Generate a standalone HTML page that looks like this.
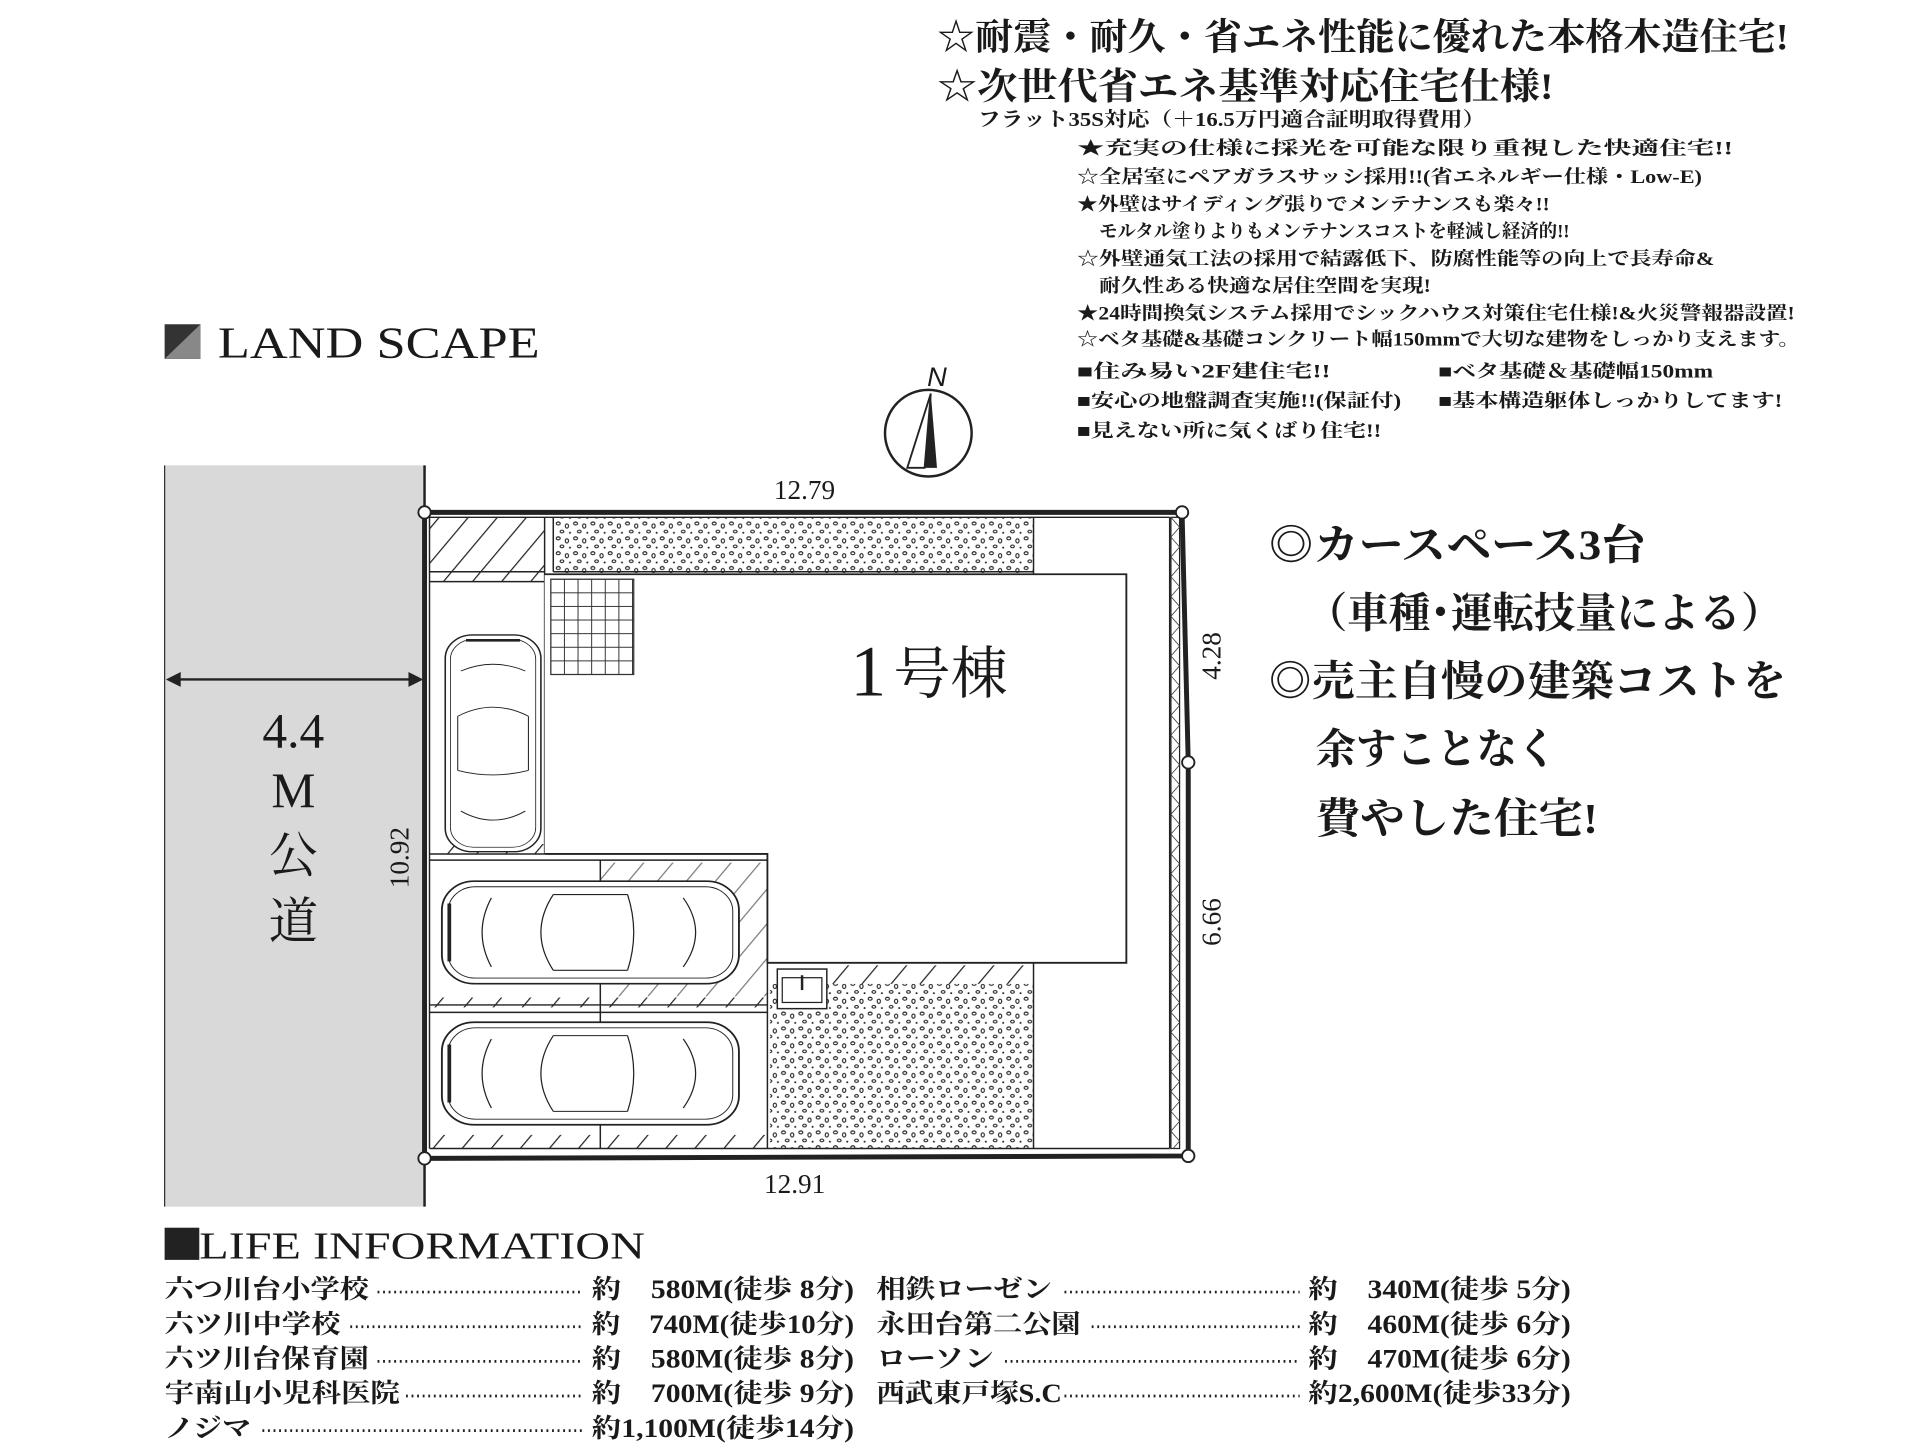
<!DOCTYPE html>
<html><head><meta charset="utf-8"><style>
html,body{margin:0;padding:0;background:#fff;}
svg{display:block;}
text{font-family:"Liberation Serif","Noto Serif CJK JP","Noto Serif CJK SC",serif;fill:#1a1a1a;}
.b{font-weight:bold;}
</style></head><body>
<svg width="1921" height="1448" viewBox="0 0 1552 1170" preserveAspectRatio="none" xmlns="http://www.w3.org/2000/svg">
<defs>
<clipPath id="fc"><rect x="946" y="418" width="7" height="510"/></clipPath>
<pattern id="st" width="14" height="12" patternUnits="userSpaceOnUse">
<ellipse cx="3" cy="3" rx="1.6" ry="1.2" fill="none" stroke="#222" stroke-width="0.9"/>
<ellipse cx="10" cy="5" rx="1.3" ry="1.7" fill="none" stroke="#222" stroke-width="0.9"/>
<ellipse cx="6" cy="9.5" rx="1.5" ry="1.1" fill="none" stroke="#222" stroke-width="0.9"/>
<circle cx="12.5" cy="10.5" r="0.8" fill="#222"/>
</pattern>
<pattern id="ht" width="18" height="18" patternUnits="userSpaceOnUse" patternTransform="rotate(40)">
<line x1="0" y1="0" x2="0" y2="18" stroke="#222" stroke-width="2"/>
</pattern>
<pattern id="tile" width="11" height="11" patternUnits="userSpaceOnUse" x="445" y="468">
<rect width="11" height="11" fill="none" stroke="#333" stroke-width="0.8"/>
</pattern>
<g id="carh">
<rect x="0" y="0" width="240" height="92" rx="26" fill="#fff" stroke="#222" stroke-width="1.5"/>
<rect x="5" y="5" width="230" height="82" rx="22" fill="none" stroke="#222" stroke-width="0.8"/>
<path d="M90 12 Q70 46 90 80 M150 12 Q160 46 150 80 M90 12 L150 12 M90 80 L150 80 M195 15 Q215 46 195 77 M40 15 Q25 46 40 77" fill="none" stroke="#222" stroke-width="1"/>
<line x1="6" y1="20" x2="6" y2="72" stroke="#222" stroke-width="3"/>
</g>
</defs>

<text x="757" y="40" class="b" font-size="30" textLength="688" lengthAdjust="spacingAndGlyphs">☆耐震・耐久・省エネ性能に優れた本格木造住宅!</text>
<text x="757" y="80" class="b" font-size="30" textLength="498" lengthAdjust="spacingAndGlyphs">☆次世代省エネ基準対応住宅仕様!</text>
<text x="790" y="102" class="b" font-size="16" textLength="410" lengthAdjust="spacingAndGlyphs">フラット35S対応（＋16.5万円適合証明取得費用）</text>
<g font-size="15">
<text x="870" y="125" textLength="530" lengthAdjust="spacingAndGlyphs" class="b">★充実の仕様に採光を可能な限り重視した快適住宅!!</text>
<text x="870" y="148" textLength="505" lengthAdjust="spacingAndGlyphs" class="b">☆全居室にペアガラスサッシ採用!!(省エネルギー仕様・Low-E)</text>
<text x="870" y="170" textLength="382" lengthAdjust="spacingAndGlyphs" class="b">★外壁はサイディング張りでメンテナンスも楽々!!</text>
<text x="888" y="192" textLength="380" lengthAdjust="spacingAndGlyphs" class="b">モルタル塗りよりもメンテナンスコストを軽減し経済的!!</text>
<text x="870" y="214" textLength="515" lengthAdjust="spacingAndGlyphs" class="b">☆外壁通気工法の採用で結露低下、防腐性能等の向上で長寿命&amp;</text>
<text x="888" y="236" textLength="268" lengthAdjust="spacingAndGlyphs" class="b">耐久性ある快適な居住空間を実現!</text>
<text x="870" y="258" textLength="580" lengthAdjust="spacingAndGlyphs" class="b">★24時間換気システム採用でシックハウス対策住宅仕様!&amp;火災警報器設置!</text>
<text x="870" y="279" textLength="584" lengthAdjust="spacingAndGlyphs" class="b">☆ベタ基礎&amp;基礎コンクリート幅150mmで大切な建物をしっかり支えます。</text>
<text x="870" y="305" textLength="205" lengthAdjust="spacingAndGlyphs" class="b">■住み易い2F建住宅!!</text>
<text x="870" y="329" textLength="262" lengthAdjust="spacingAndGlyphs" class="b">■安心の地盤調査実施!!(保証付)</text>
<text x="870" y="353" textLength="246" lengthAdjust="spacingAndGlyphs" class="b">■見えない所に気くばり住宅!!</text>
<text x="1162" y="305" textLength="222" lengthAdjust="spacingAndGlyphs" class="b">■ベタ基礎＆基礎幅150mm</text>
<text x="1162" y="329" textLength="278" lengthAdjust="spacingAndGlyphs" class="b">■基本構造躯体しっかりしてます!</text>
</g>

<rect x="133" y="262" width="29" height="28" fill="#333"/>
<polygon points="162,262 162,290 133,290" fill="#888"/>
<text x="176" y="289" font-size="36" textLength="260" lengthAdjust="spacingAndGlyphs">LAND SCAPE</text>

<circle cx="750" cy="350" r="35" fill="none" stroke="#222" stroke-width="2"/>
<polygon points="752,318 747,378 733,378" fill="#fff" stroke="#222" stroke-width="1.5"/>
<polygon points="752,318 757,378 747,378" fill="#222"/>
<text x="757" y="312" font-size="22" text-anchor="middle" style="font-family:'Liberation Sans',sans-serif" font-style="italic">N</text>

<rect x="133" y="376" width="210" height="599" fill="#d9d9d9"/>
<line x1="133" y1="376" x2="133" y2="975" stroke="#333" stroke-width="1"/>
<line x1="343" y1="376" x2="343" y2="975" stroke="#222" stroke-width="2"/>
<line x1="138" y1="549" x2="338" y2="549" stroke="#222" stroke-width="2"/>
<polygon points="134,549 146,543 146,555" fill="#222"/>
<polygon points="342,549 330,543 330,555" fill="#222"/>
<g font-size="40" text-anchor="middle" fill="#333">
<text x="237" y="604">4.4</text>
<text x="237" y="652">M</text>
<text x="237" y="705">公</text>
<text x="237" y="758">道</text>
</g>

<rect x="447" y="418" width="388" height="45" fill="url(#st)"/>
<rect x="622" y="795" width="213" height="133" fill="url(#st)"/>
<rect x="347" y="418" width="93" height="44" fill="url(#ht)"/>
<rect x="672" y="780" width="163" height="15" fill="url(#ht)"/>
<rect x="347" y="462" width="93" height="8" fill="url(#ht)"/>
<rect x="347" y="682" width="93" height="8" fill="url(#ht)"/>
<rect x="347" y="806" width="273" height="8" fill="url(#ht)"/>
<rect x="485" y="697" width="135" height="108" fill="url(#ht)" opacity="0.6"/>
<rect x="347" y="917" width="273" height="11" fill="url(#ht)"/>
<g fill="none" stroke="#222" stroke-width="1.2">
<line x1="347" y1="462" x2="440" y2="462"/>
<line x1="347" y1="470" x2="440" y2="470"/>
<line x1="347" y1="690" x2="440" y2="690"/>
<line x1="347" y1="695" x2="620" y2="695"/>
<line x1="347" y1="812" x2="620" y2="812"/>
<line x1="347" y1="818" x2="620" y2="818"/>
<line x1="347" y1="928" x2="945" y2="928"/>
<line x1="440" y1="418" x2="440" y2="690"/>
<line x1="447" y1="418" x2="447" y2="462"/>
<line x1="447" y1="462" x2="835" y2="462"/>
<line x1="835" y1="418" x2="835" y2="464"/>
<line x1="835" y1="778" x2="835" y2="928"/>
<line x1="620" y1="778" x2="620" y2="928"/>
<line x1="485" y1="695" x2="485" y2="928"/>
<line x1="945" y1="418" x2="945" y2="928"/>
<line x1="347" y1="418" x2="347" y2="928"/>
<line x1="347" y1="418" x2="945" y2="418"/>
</g>
<polyline points="440,464 910,464 910,778 620,778 620,690 440,690" fill="#fff" stroke="#222" stroke-width="1.5"/>
<rect x="445" y="468" width="67" height="77" fill="url(#tile)" stroke="#333"/>
<rect x="628" y="783" width="40" height="32" fill="#fff" stroke="#222" stroke-width="1.2"/>
<rect x="632" y="790" width="32" height="20" fill="none" stroke="#222"/>
<line x1="648" y1="788" x2="648" y2="800" stroke="#222" stroke-width="2"/>
<rect x="946" y="418" width="7" height="510" fill="none" stroke="#222" stroke-width="1"/>
<path clip-path="url(#fc)" d="M946 418 l7 8 -7 8 7 8 -7 8 7 8 -7 8 7 8 -7 8 7 8 -7 8 7 8 -7 8 7 8 -7 8 7 8 -7 8 7 8 -7 8 7 8 -7 8 7 8 -7 8 7 8 -7 8 7 8 -7 8 7 8 -7 8 7 8 -7 8 7 8 -7 8 7 8 -7 8 7 8 -7 8 7 8 -7 8 7 8 -7 8 7 8 -7 8 7 8 -7 8 7 8 -7 8 7 8 -7 8 7 8 -7 8 7 8 -7 8 7 8 -7 8 7 8 -7 8 7 8 -7 8 7 8 -7 8 7 8 -7 8 7 8 -7 8 7 8 -7 8 7 8 -7 8 7 8 -7 8" fill="none" stroke="#444" stroke-width="0.7"/>
<polyline points="343,414 955,414 960,616 960,934 343,936 343,414" fill="none" stroke="#222" stroke-width="4"/>
<g fill="#fff" stroke="#222" stroke-width="1.5">
<circle cx="343" cy="414" r="5"/><circle cx="955" cy="414" r="5"/><circle cx="960" cy="616" r="5"/>
<circle cx="960" cy="934" r="5"/><circle cx="343" cy="936" r="5"/>
</g>
<g transform="translate(437,513) rotate(90)"><use href="#carh" transform="scale(0.73,0.84)"/></g>
<use href="#carh" transform="translate(357,712) scale(1,0.9)"/>
<use href="#carh" transform="translate(357,826) scale(1,0.9)"/>

<g font-size="22" fill="#222">
<text x="650" y="403" text-anchor="middle">12.79</text>
<text x="642" y="964" text-anchor="middle">12.91</text>
<text transform="translate(330,693) rotate(-90)" text-anchor="middle">10.92</text>
<text transform="translate(986,530) rotate(-90)" text-anchor="middle">4.28</text>
<text transform="translate(986,745) rotate(-90)" text-anchor="middle">6.66</text>
</g>
<text x="687" y="562" font-size="58" fill="#333">1</text>
<text x="722" y="560" font-size="46" fill="#333">号棟</text>

<g font-size="34">
<text x="1025" y="452" class="b" textLength="305" lengthAdjust="spacingAndGlyphs">◎カースペース3台</text>
<text x="1055" y="507" class="b" textLength="385" lengthAdjust="spacingAndGlyphs">（車種･運転技量による）</text>
<text x="1025" y="562" class="b" textLength="418" lengthAdjust="spacingAndGlyphs">◎売主自慢の建築コストを</text>
<text x="1063" y="617" class="b" textLength="195" lengthAdjust="spacingAndGlyphs">余すことなく</text>
<text x="1063" y="673" class="b" textLength="228" lengthAdjust="spacingAndGlyphs">費やした住宅!</text>
</g>

<rect x="133" y="992" width="28" height="26" fill="#222"/>
<text x="161" y="1017" font-size="31" textLength="360" lengthAdjust="spacingAndGlyphs">LIFE INFORMATION</text>
<g font-size="21">
<text x="133" y="1049" class="b" textLength="165" lengthAdjust="spacingAndGlyphs">六つ川台小学校</text>
<text x="133" y="1077" class="b" textLength="142" lengthAdjust="spacingAndGlyphs">六ツ川中学校</text>
<text x="133" y="1105" class="b" textLength="165" lengthAdjust="spacingAndGlyphs">六ツ川台保育園</text>
<text x="133" y="1133" class="b" textLength="190" lengthAdjust="spacingAndGlyphs">宇南山小児科医院</text>
<text x="133" y="1161" class="b" textLength="70" lengthAdjust="spacingAndGlyphs">ノジマ</text>
<text x="478" y="1049" class="b" textLength="212" lengthAdjust="spacingAndGlyphs">約　580M(徒歩 8分)</text>
<text x="478" y="1077" class="b" textLength="212" lengthAdjust="spacingAndGlyphs">約　740M(徒歩10分)</text>
<text x="478" y="1105" class="b" textLength="212" lengthAdjust="spacingAndGlyphs">約　580M(徒歩 8分)</text>
<text x="478" y="1133" class="b" textLength="212" lengthAdjust="spacingAndGlyphs">約　700M(徒歩 9分)</text>
<text x="478" y="1161" class="b" textLength="212" lengthAdjust="spacingAndGlyphs">約1,100M(徒歩14分)</text>
<text x="708" y="1049" class="b" textLength="142" lengthAdjust="spacingAndGlyphs">相鉄ローゼン</text>
<text x="708" y="1077" class="b" textLength="165" lengthAdjust="spacingAndGlyphs">永田台第二公園</text>
<text x="708" y="1105" class="b" textLength="95" lengthAdjust="spacingAndGlyphs">ローソン</text>
<text x="708" y="1133" class="b" textLength="150" lengthAdjust="spacingAndGlyphs">西武東戸塚S.C</text>
<text x="1057" y="1049" class="b" textLength="212" lengthAdjust="spacingAndGlyphs">約　340M(徒歩 5分)</text>
<text x="1057" y="1077" class="b" textLength="212" lengthAdjust="spacingAndGlyphs">約　460M(徒歩 6分)</text>
<text x="1057" y="1105" class="b" textLength="212" lengthAdjust="spacingAndGlyphs">約　470M(徒歩 6分)</text>
<text x="1057" y="1133" class="b" textLength="212" lengthAdjust="spacingAndGlyphs">約2,600M(徒歩33分)</text>
</g>
<g stroke="#222" stroke-width="2.2" stroke-dasharray="1.5 3">
<line x1="305" y1="1044" x2="470" y2="1044"/>
<line x1="283" y1="1072" x2="470" y2="1072"/>
<line x1="305" y1="1100" x2="470" y2="1100"/>
<line x1="328" y1="1128" x2="470" y2="1128"/>
<line x1="212" y1="1156" x2="470" y2="1156"/>
<line x1="860" y1="1044" x2="1050" y2="1044"/>
<line x1="882" y1="1072" x2="1050" y2="1072"/>
<line x1="812" y1="1100" x2="1050" y2="1100"/>
<line x1="860" y1="1128" x2="1050" y2="1128"/>
</g>
</svg>
</body></html>
